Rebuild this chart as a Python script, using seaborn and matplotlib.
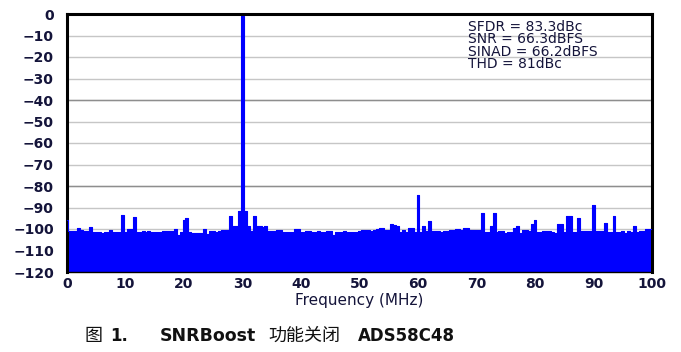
import numpy as np
import pandas as pd
import matplotlib
matplotlib.use("Agg")
import matplotlib.pyplot as plt
import seaborn as sns

# ---------------- data (dBFS per 0.5 MHz bin) ----------------
lvl_00_10 = [-95.8, -101, -101, -101, -99.5, -100.5, -101, -101, -99.3, -101.2,
             -101.5, -101.5, -102, -101.5, -101.5, -100.5, -101.2, -101.2, -101.5, -93.5]
lvl_10_20 = [-101.5, -100, -100, -94.3, -101.2, -101.2, -101, -101.2, -101, -101.2,
             -101.5, -101.5, -101.2, -100.7, -100.7, -101, -101, -100, -103, -101.5]
lvl_20_30 = [-95.8, -95, -101.5, -101.8, -101.8, -101.8, -101.8, -100, -102.5, -101,
             -101, -101.5, -100.7, -100.5, -100.5, -100.5, -93.8, -98.8, -98.5, -91.5]
lvl_30_40 = [-1, -91.5, -98.8, -101, -94, -98.8, -98.8, -99, -98.5, -100.7,
             -100.7, -100.7, -100.3, -100.3, -101.2, -101.2, -101.2, -101.2, -100, -100]
lvl_40_50 = [-101.5, -101.5, -101, -101, -101.5, -101.5, -101, -101.5, -101.5, -101,
             -101, -102.8, -101.3, -101.3, -101.3, -101.1, -101.5, -101.5, -101.5, -101.5]
lvl_50_60 = [-101, -100.5, -100.5, -100.5, -101, -100.5, -100, -99.5, -99.5, -100.5,
             -100.5, -97.5, -98, -98.5, -101.5, -100.5, -101.5, -99.5, -99.5, -101.5]
lvl_60_70 = [-84, -101.5, -98.5, -101, -96.5, -101, -101, -101, -101.5, -101,
             -101, -100.5, -100.5, -100, -100, -100.5, -99.5, -99.5, -100.5, -100.5]
lvl_70_80 = [-100.5, -100.5, -92.7, -101.5, -101.5, -98.5, -92.7, -101.5, -101, -101,
             -102, -101.5, -101.3, -99.5, -98.8, -102, -100.3, -100.3, -101, -97.5]
lvl_80_90 = [-95.8, -101.5, -101.5, -101, -101, -101, -101.5, -102, -97.6, -97.6,
             -101.5, -93.8, -93.8, -101.5, -101.5, -94.7, -101, -101, -101, -101]
lvl_90_100 = [-88.8, -101, -101, -101, -97.3, -101.5, -101.5, -94, -101.5, -101.5,
              -101, -102, -101, -101.5, -98.7, -101.5, -101, -101, -100.2, -100.2]
lvl_100 = [-100.2]

levels = (lvl_00_10 + lvl_10_20 + lvl_20_30 + lvl_30_40 + lvl_40_50 +
          lvl_50_60 + lvl_60_70 + lvl_70_80 + lvl_80_90 + lvl_90_100 + lvl_100)
freq_mhz = np.arange(len(levels)) * 0.5

y_ticks = list(range(-120, 1, 10))
x_ticks = list(range(0, 101, 10))

stats_lines = ["SFDR = 83.3dBc", "SNR = 66.3dBFS", "SINAD = 66.2dBFS", "THD = 81dBc"]
x_label = "Frequency (MHz)"

df = pd.DataFrame({"freq": freq_mhz, "level": levels})

# ---------------- style ----------------
sns.set_theme(style="white")
plt.rcParams["font.family"] = ["DejaVu Sans", "Noto Sans CJK SC"]
plt.rcParams["axes.unicode_minus"] = True

W, H = 681, 352
fig = plt.figure(figsize=(W / 100, H / 100), dpi=100)
fig.patch.set_facecolor("white")
L, R, T, B = 67, 652, 14, 272
ax = fig.add_axes([L / W, 1 - B / H, (R - L) / W, (B - T) / H])
ax.set_facecolor("white")

blue = "#0000ff"
ax.fill_between(df["freq"], df["level"], -120, step="mid", color=blue, lw=0, zorder=2)
sns.lineplot(data=df, x="freq", y="level", drawstyle="steps-mid", color=blue,
             lw=0.8, estimator=None, ax=ax, zorder=3)

ax.set_xlim(0, 100)
ax.set_ylim(-120, 0)
ax.set_xticks(x_ticks)
ax.set_yticks(y_ticks)

ax.set_axisbelow(True)
ax.grid(axis="y", color="#c6c6c6", lw=1.0)
ax.grid(axis="x", visible=False)
for yv in (-40, -80):
    ax.axhline(yv, color="#8e8e8e", lw=1.0, zorder=1)

lab_col = "#14143a"
ax.tick_params(axis="both", length=0, labelsize=10, labelcolor=lab_col)
ax.tick_params(axis="y", pad=9.5)
ax.tick_params(axis="x", pad=3.5)
for t in ax.get_xticklabels() + ax.get_yticklabels():
    t.set_fontweight("bold")

for side in ("left", "top", "right"):
    ax.spines[side].set_visible(True)
    ax.spines[side].set_color("black")
    ax.spines[side].set_linewidth(2.2)
ax.spines["bottom"].set_color("black")
ax.spines["bottom"].set_linewidth(1.0)

ax.set_xlabel(x_label, fontsize=11, color=lab_col, va="center")
ax.xaxis.set_label_coords(0.5, -(300 - B) / (B - T))
ax.set_ylabel("")

# stats text block (one multi-line text, tight line spacing as in the source)
ax.text((468 - L) / (R - L), (B - 20) / (B - T), "\n".join(stats_lines),
        transform=ax.transAxes, fontsize=10, linespacing=0.85, color=lab_col,
        va="top", ha="left", zorder=5)

# caption
base_y = 1 - 341 / H
fig.text(85 / W, base_y, "图", family=["Noto Sans CJK SC", "DejaVu Sans"],
         fontsize=13, va="baseline", ha="left", color="#111111")
fig.text(110 / W, base_y, "1.", fontsize=12, fontweight="bold", va="baseline",
         ha="left", color="#111111")
fig.text(160 / W, base_y, "SNRBoost", fontsize=12.5, fontweight="bold",
         va="baseline", ha="left", color="#111111")
fig.text(268 / W, base_y, "功能关闭", family=["Noto Sans CJK SC", "DejaVu Sans"],
         fontsize=13, va="baseline", ha="left", color="#111111")
fig.text(358 / W, base_y, "ADS58C48", fontsize=12, fontweight="bold",
         va="baseline", ha="left", color="#111111")

fig.savefig("out.png", dpi=100, facecolor="white")
